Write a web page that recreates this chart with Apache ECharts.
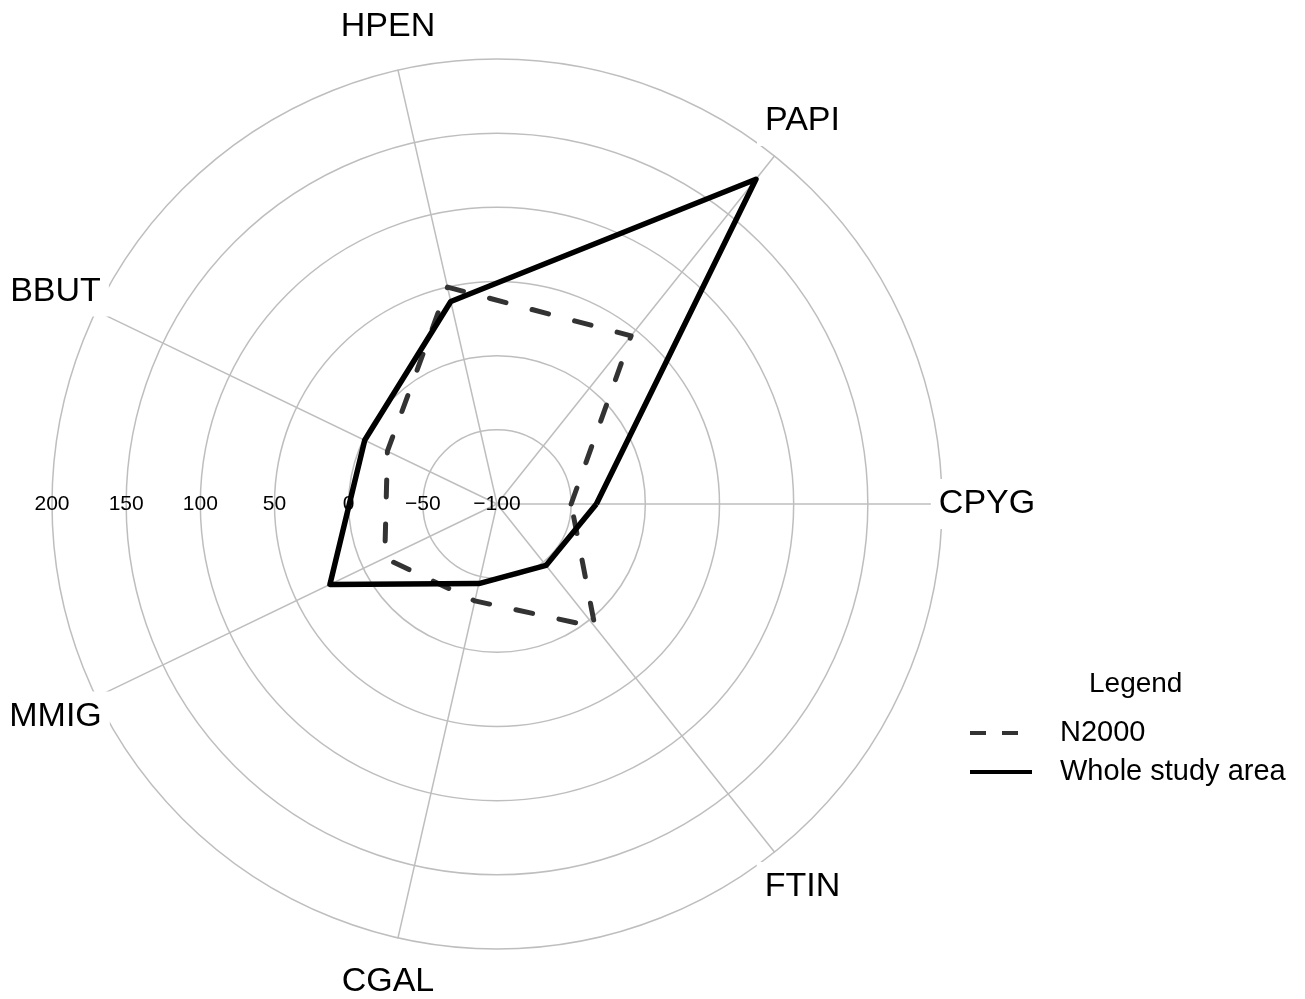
<!DOCTYPE html>
<html>
<head>
<meta charset="utf-8">
<script src="https://cdn.jsdelivr.net/npm/echarts@6/dist/echarts.min.js"></script>
<style>
  html, body { margin: 0; padding: 0; background: #fff; }
  #chart { width: 1305px; height: 999px; }
</style>
</head>
<body>
<div id="chart"></div>
<script>
// axes, counter-clockwise from the right
var categories = ['CPYG', 'PAPI', 'HPEN', 'BBUT', 'MMIG', 'CGAL', 'FTIN'];
var n2000 = [-50, 45, 50, -18, -16, -33, 6];
var wholeArea = [-33, 180, 40, -1, 25, -45, -47];
var seriesNames = ['N2000', 'Whole study area'];
var radialMin = -100;
var radialMax = 200;
var radialStep = 50;

var FONT = 'Liberation Sans, Arial, sans-serif';
var center = [497, 504];
var radius = 445;

function minusFmt(v) {
    return v < 0 ? '\u2212' + (-v) : String(v);
}

var myChart = echarts.init(document.getElementById('chart'));

var option = {
    animation: false,
    backgroundColor: '#fff',
    textStyle: { fontFamily: FONT },
    title: {
        text: 'Legend',
        left: 1084,
        top: 665,
        textStyle: { fontSize: 28, fontWeight: 'normal', color: '#000', fontFamily: FONT }
    },
    legend: {
        orient: 'vertical',
        left: 965,
        top: 713,
        itemWidth: 62,
        itemHeight: 4,
        itemGap: 9,
        selectedMode: false,
        textStyle: { fontSize: 29, color: '#000', lineHeight: 30, padding: [0, 0, 0, 23], fontFamily: FONT },
        data: [
            // tiny speck at the right end keeps the dashes left-aligned in the 62px box
            { name: seriesNames[0], icon: 'path://M0,0h16v4h-16z M32,0h16v4h-16z M61.9,0h0.1v0.1h-0.1z' },
            { name: seriesNames[1], icon: 'path://M0,0h62v4h-62z' }
        ]
    },
    radar: {
        center: center,
        radius: radius,
        startAngle: 0,
        shape: 'circle',
        splitNumber: (radialMax - radialMin) / radialStep,
        nameGap: 45,
        axisName: {
            color: '#000',
            fontSize: 34,
            fontFamily: FONT,
            align: 'center',
            verticalAlign: 'middle',
            backgroundColor: '#fff',
            padding: [15, 8, 1, 8]
        },
        indicator: categories.map(function (c) {
            return { name: c, min: radialMin, max: radialMax };
        }),
        axisLine: { lineStyle: { color: '#bebebe', width: 1.5 } },
        axisTick: { show: false },
        axisLabel: { show: false },
        splitLine: { lineStyle: { color: '#bebebe', width: 1.5 } },
        splitArea: { show: false }
    },
    // second frame only for the radial tick labels along the left
    polar: {
        center: center,
        radius: radius
    },
    angleAxis: {
        type: 'value',
        startAngle: 180,
        min: 0,
        max: 360,
        show: false
    },
    radiusAxis: {
        type: 'value',
        min: radialMin,
        max: radialMax,
        interval: radialStep,
        axisLine: { show: false },
        axisTick: { show: false },
        splitLine: { show: false },
        axisLabel: {
            show: true,
            margin: 0,
            align: 'center',
            verticalAlign: 'middle',
            padding: [3, 0, 0, 0],
            fontSize: 21,
            color: '#000',
            fontFamily: FONT,
            formatter: minusFmt
        }
    },
    series: [{
        type: 'radar',
        symbol: 'none',
        silent: true,
        data: [
            {
                name: seriesNames[0],
                value: n2000,
                itemStyle: { color: '#333' },
                lineStyle: { color: '#333', width: 5, type: [17, 27], cap: 'round', join: 'round' }
            },
            {
                name: seriesNames[1],
                value: wholeArea,
                itemStyle: { color: '#000' },
                lineStyle: { color: '#000', width: 5.5, type: 'solid', join: 'round' }
            }
        ]
    }]
};

myChart.setOption(option);
</script>
</body>
</html>
